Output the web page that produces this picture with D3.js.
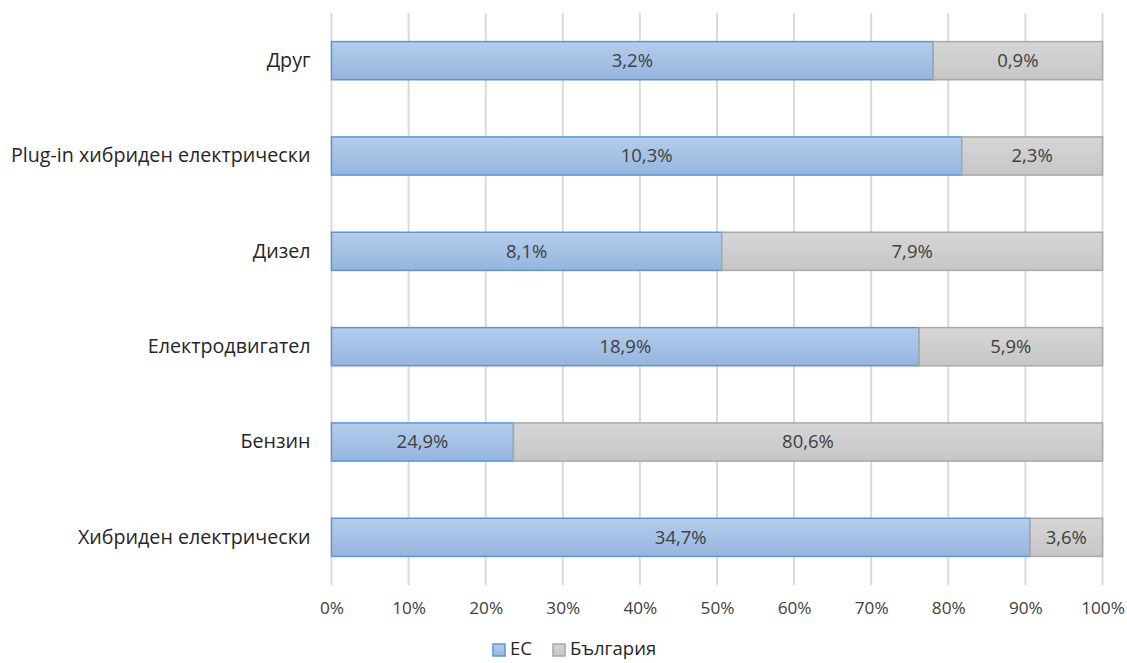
<!DOCTYPE html>
<html><head><meta charset="utf-8">
<script src="https://cdn.jsdelivr.net/npm/d3@7"></script>
<style>body{margin:0;background:#fff}svg{display:block}text{font-family:"Open Sans","Noto Sans",sans-serif}</style>
</head><body><svg id="c" width="1127" height="663"></svg>
<script>
const categories = ["Друг","Plug-in хибриден електрически","Дизел","Електродвигател","Бензин","Хибриден електрически"];
const euValues = [3.2,10.3,8.1,18.9,24.9,34.7];
const bgValues = [0.9,2.3,7.9,5.9,80.6,3.6];
const seriesNames = ["ЕС","България"];
const xTicks = [0,0.1,0.2,0.3,0.4,0.5,0.6,0.7,0.8,0.9,1];

const svg = d3.select("#c");
const defs = svg.append("defs");
const gB = defs.append("linearGradient").attr("id","gBlue").attr("x1",0).attr("y1",0).attr("x2",0).attr("y2",1);
gB.append("stop").attr("offset","0%").attr("stop-color","#b5cdeb");
gB.append("stop").attr("offset","100%").attr("stop-color","#95b5df");
const gG = defs.append("linearGradient").attr("id","gGrey").attr("x1",0).attr("y1",0).attr("x2",0).attr("y2",1);
gG.append("stop").attr("offset","0%").attr("stop-color","#d6d6d6");
gG.append("stop").attr("offset","100%").attr("stop-color","#c6c6c6");

const x = d3.scaleLinear().domain([0,1]).range([331.5,1102.5]);
const y = d3.scaleBand().domain(categories).range([13,585]).paddingInner(0.6).paddingOuter(0.3);

// grid
svg.append("g").selectAll("line").data(xTicks).join("line")
  .attr("x1",d=>x(d)).attr("x2",d=>x(d)).attr("y1",13).attr("y2",585)
  .attr("stroke","#d9d9d9").attr("stroke-width",2);

const rows = categories.map((c,i)=>{const t=euValues[i]+bgValues[i];return {c,eu:euValues[i],bg:bgValues[i],p:euValues[i]/t};});
const fmt = v => v.toFixed(1).replace(".",",")+"%";

const g = svg.append("g");
g.selectAll("rect.eu").data(rows).join("rect").attr("class","eu")
  .attr("x",x(0)).attr("y",d=>y(d.c)).attr("width",d=>x(d.p)-x(0)).attr("height",y.bandwidth())
  .attr("fill","url(#gBlue)").attr("stroke","#5b96d3").attr("stroke-width",1.5);
g.selectAll("rect.bg").data(rows).join("rect").attr("class","bg")
  .attr("x",d=>x(d.p)).attr("y",d=>y(d.c)).attr("width",d=>x(1)-x(d.p)).attr("height",y.bandwidth())
  .attr("fill","url(#gGrey)").attr("stroke","#a8a8a8").attr("stroke-width",1.5);

g.selectAll("text.leu").data(rows).join("text").attr("class","leu")
  .attr("x",d=>(x(0)+x(d.p))/2).attr("y",d=>y(d.c)+y.bandwidth()/2).attr("dy","0.35em")
  .attr("text-anchor","middle").attr("font-size",18.5).attr("fill","#404040").text(d=>fmt(d.eu));
g.selectAll("text.lbg").data(rows).join("text").attr("class","lbg")
  .attr("x",d=>(x(d.p)+x(1))/2).attr("y",d=>y(d.c)+y.bandwidth()/2).attr("dy","0.35em")
  .attr("text-anchor","middle").attr("font-size",18.5).attr("fill","#404040").text(d=>fmt(d.bg));

// y axis labels
const yAxis = d3.axisLeft(y).tickSize(0).tickPadding(21);
const ya = svg.append("g").attr("transform",`translate(${x(0)},0)`).call(yAxis);
ya.select(".domain").remove();
ya.selectAll("text").attr("font-size",19.7).attr("fill","#262626").style("font-family",'"Open Sans","Noto Sans",sans-serif');

// x axis
const xAxis = d3.axisBottom(x).tickValues(xTicks).tickFormat(d3.format(".0%")).tickSize(0).tickPadding(17);
const xa = svg.append("g").attr("transform","translate(0,585)").call(xAxis);
xa.select(".domain").remove();
xa.selectAll("text").attr("font-size",17.2).attr("fill","#404040").style("font-family",'"Open Sans","Noto Sans",sans-serif');

// legend
const leg = svg.append("g");
const legItems = [{n:seriesNames[0],f:"url(#gBlue)",s:"#5b96d3",x:493},{n:seriesNames[1],f:"url(#gGrey)",s:"#a8a8a8",x:553}];
leg.selectAll("rect").data(legItems).join("rect").attr("x",d=>d.x).attr("y",644).attr("width",12).attr("height",12)
  .attr("fill",d=>d.f).attr("stroke",d=>d.s).attr("stroke-width",1.5);
leg.selectAll("text").data(legItems).join("text").attr("x",d=>d.x+17).attr("y",649).attr("dy","0.35em")
  .attr("font-size",18.5).attr("fill","#262626").text(d=>d.n);
</script></body></html>
